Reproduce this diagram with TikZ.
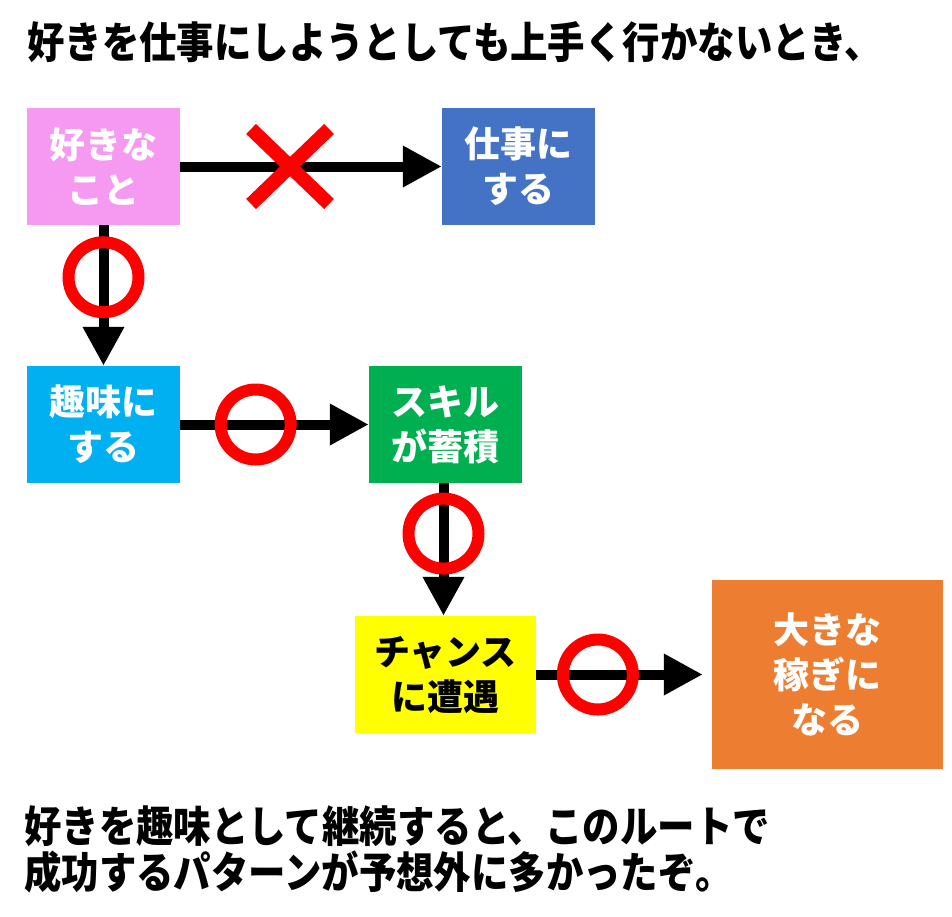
\documentclass[tikz,border=0pt]{standalone}
\usepackage{fontspec}
\setmainfont{Noto Sans CJK JP}
\newfontfamily\captionfont[FakeStretch=0.87]{Noto Sans CJK JP}
\usetikzlibrary{arrows.meta,shapes.misc}
\definecolor{likepink}{HTML}{F59AF0}
\definecolor{workblue}{HTML}{4472C4}
\definecolor{hobbyblue}{HTML}{00B0F0}
\definecolor{skillgreen}{HTML}{00B050}
\definecolor{chanceyellow}{HTML}{FFFF00}
\definecolor{incomeorange}{HTML}{ED7D31}
\definecolor{markred}{HTML}{FF0000}
\tikzset{
  flowbox/.style={rectangle, inner sep=0pt, align=center, text=white,
    font=\fontsize{36}{45}\selectfont\bfseries},
  caption/.style={inner sep=0pt, align=left,
    font=\captionfont\fontsize{43}{46}\selectfont\bfseries},
  arrow/.style={-{Triangle[length=39pt,width=39pt]}, line width=10pt, draw=black},
  okmark/.style={circle, draw=markred, line width=12pt, minimum size=70pt, inner sep=0pt},
  ngmark/.style={cross out, draw=markred, line width=14pt, minimum width=64pt, minimum height=61pt, inner sep=0pt}
}

\begin{document}
\begin{tikzpicture}[x=1pt, y=-1pt]
  \useasboundingbox (0,0) rectangle (952,916);
  \node[caption, anchor=west] (title) at (27,42) {好きを仕事にしようとしても上手く行かないとき、};

  \node[flowbox, fill=likepink, minimum width=153pt, minimum height=117pt] (like) at (103.5,166.5) {好きな\\こと};
  \node[flowbox, fill=workblue, minimum width=153pt, minimum height=117pt] (work) at (518.5,166.5) {仕事に\\する};
  \node[flowbox, fill=hobbyblue, minimum width=153pt, minimum height=117pt] (hobby) at (103.5,424.5) {趣味に\\する};
  \node[flowbox, fill=skillgreen, minimum width=153pt, minimum height=117pt] (skill) at (445.5,424.5) {スキル\\が蓄積};
  \node[flowbox, fill=chanceyellow, text=black, minimum width=181pt, minimum height=117pt] (chance) at (445.5,674.5) {チャンス\\に遭遇};
  \node[flowbox, fill=incomeorange, minimum width=231pt, minimum height=189pt] (income) at (827.5,674.5) {大きな\\稼ぎに\\なる};

  \draw[arrow] (like.east) -- node[ngmark, pos=0.42] (ng1) {} (work.west);
  \draw[arrow] (like.south) -- node[okmark, pos=0.37] (ok1) {} (hobby.north);
  \draw[arrow] (hobby.east) -- node[okmark, pos=0.40] (ok2) {} (skill.west);
  \draw[arrow] ([xshift=-2pt]skill.south) -- node[okmark, pos=0.38] (ok3) {} ([xshift=-2pt]chance.north);
  \draw[arrow] (chance.east) -- node[okmark, pos=0.37] (ok4) {} ([xshift=-9pt]income.west);

  \node[caption, anchor=west] (summary) at (24,849) {好きを趣味として継続すると、このルートで\\成功するパターンが予想外に多かったぞ。};
\end{tikzpicture}
\end{document}
